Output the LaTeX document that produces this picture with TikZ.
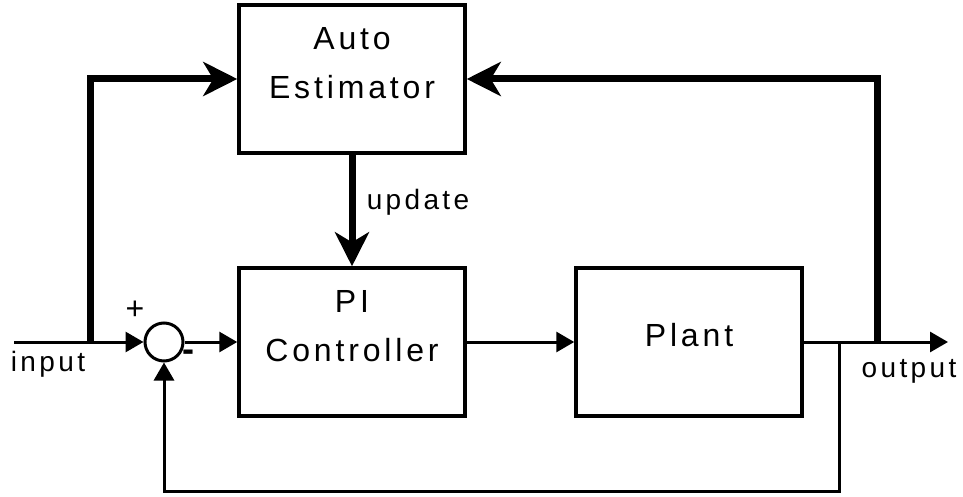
\documentclass[tikz,border=0pt]{standalone}
\usepackage{fontspec}
\setmainfont{Liberation Sans}[LetterSpace=12]
\usetikzlibrary{arrows.meta}

\tikzset{
  block/.style={draw, line width=1.75pt, minimum width=113pt, minimum height=74pt, inner sep=0pt},
  blocktext/.style={align=center, inner sep=0pt, font=\fontsize{16}{24.5}\selectfont},
  junction/.style={circle, draw, line width=1.5pt, minimum size=19pt, inner sep=0pt},
  sig/.style={line width=1.5pt, -{Triangle[length=9pt,width=10pt]}},
  wide/.style={line width=3.5pt, -{Stealth[length=17pt,width=17pt,inset=5pt]}},
  lbl/.style={inner sep=0pt, font=\fontsize{14}{16}\selectfont},
}

\begin{document}
\begin{tikzpicture}[x=0.5pt,y=-0.5pt]
\useasboundingbox (0,0) rectangle (963,497);

% blocks
\node[block] (est) at (352,79) {};
\node[block] (pi) at (352,342) {};
\node[block] (plant) at (689,342) {};
\node[blocktext] (estText) at (352,63.5) {Auto\\Estimator};
\node[blocktext] (piText) at (352,326) {PI\\Controller};
\node[blocktext] (plantText) at (689,335) {Plant};
\node[junction] (sum) at (164,342) {};

% points on the signal lines
\coordinate (in) at (14,342);
\coordinate (split) at (90,342);
\coordinate (fb) at (839,342);
\coordinate (tap) at (877,342);
\coordinate (out) at (948,342);
\coordinate (fbLow) at (839,491);

% signals
\draw[sig] (in) -- (sum);
\draw[sig] (sum) -- (pi);
\draw[sig] (pi) -- (plant);
\draw[sig] (plant) -- (out);
\draw[sig] (fb) -- (fbLow) -| (sum);
\draw[wide] (split) |- (est);
\draw[wide] (tap) |- (est);
\draw[wide] (est) -- (pi);

% labels
\node[lbl] (inLbl) at (48,364) {input};
\node[lbl] (outLbl) at (909,371) {output};
\node[lbl] (updLbl) at (418,202) {update};
\node[lbl, font=\fontsize{16}{18}\selectfont] (plus) at (135,310) {+};
\node[lbl, font=\fontsize{18}{20}\bfseries] (minus) at (188,356) {-};
\end{tikzpicture}
\end{document}
